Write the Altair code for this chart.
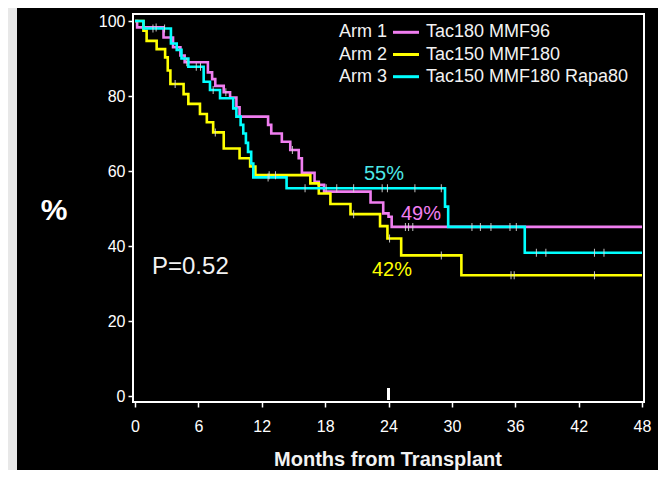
import altair as alt
import pandas as pd

# ---------------- data ----------------
MONTH_TICKS = [0, 6, 12, 18, 24, 30, 36, 42, 48]
PCT_TICKS = [0, 20, 40, 60, 80, 100]
FOLLOW_UP_END = 48
MARKER_MONTH = [24]

ARMS = ["Arm 1", "Arm 2", "Arm 3"]
REGIMENS = ["Tac180 MMF96", "Tac150 MMF180", "Tac150 MMF180 Rapa80"]
COLORS = ["#f07ef0", "#ffff00", "#00ffff"]

arm1_months = [0, 0.2, 2.7, 3.6, 4.3, 4.7, 6.9, 7.3, 7.6, 8.4, 9.0, 9.6, 9.9,
               12.6, 12.9, 13.9, 14.7, 15.5, 15.8, 17.0, 17.4, 17.9, 22.3,
               23.5, 24.0, 24.3]
arm1_pct = [100, 98.3, 95.6, 93.0, 90.8, 89.0, 86.3, 84.5, 82.7, 81.0, 79.6,
            77.0, 74.5, 72.3, 70.0, 67.8, 65.6, 63.4, 59.5, 57.1, 56.3, 54.5,
            51.6, 48.7, 47.8, 45.1]
arm1_censor = [2.0, 4.9, 8.6, 14.9, 25.6, 25.9, 26.3]

arm2_months = [0, 0.8, 1.1, 2.05, 2.85, 3.1, 3.35, 4.6, 5.05, 6.15, 6.8, 7.4,
               8.4, 9.9, 10.9, 11.4, 16.6, 17.4, 18.5, 20.4, 23.2, 23.9,
               25.2, 30.9]
arm2_pct = [100, 97.4, 94.7, 92.5, 90.3, 86.8, 83.2, 80.5, 77.9, 75.2, 73.0,
            70.3, 66.0, 63.4, 61.2, 58.9, 56.7, 54.0, 51.2, 48.5, 45.3, 42.0,
            37.5, 32.2]
arm2_censor = [3.8, 7.6, 12.7, 13.3, 20.7, 24.1, 29.0, 35.6, 35.9, 43.5]

arm3_months = [0, 0.8, 3.4, 3.95, 4.4, 5.05, 6.5, 7.1, 8.05, 9.3, 9.6, 10.0,
               10.25, 10.5, 10.7, 11.0, 11.2, 14.35, 29.35, 29.65, 36.9]
arm3_pct = [100, 98.0, 94.0, 92.3, 90.0, 87.8, 83.8, 81.6, 79.4, 76.7, 74.5,
            72.3, 70.0, 67.5, 65.1, 62.0, 58.3, 55.4, 50.5, 45.1, 38.2]
arm3_censor = [1.7, 2.8, 5.8, 6.2, 7.4, 12.6, 16.1, 18.1, 19.1, 20.7, 23.4,
               23.9, 26.5, 29.0, 31.9, 32.7, 33.7, 35.5, 36.1, 38.0, 38.9,
               43.5, 44.4]

RATE_LABELS = ["55%", "49%", "42%"]
RATE_COLORS = ["#4de8e8", "#f07ef0", "#ffff00"]
P_TEXT = "P=0.52"
X_TITLE = "Months from Transplant"
Y_TITLE = "%"

FONT = "Liberation Sans"

# ---------------- build tables ----------------
series = [(arm1_months, arm1_pct, arm1_censor),
          (arm2_months, arm2_pct, arm2_censor),
          (arm3_months, arm3_pct, arm3_censor)]

curve_rows, censor_rows = [], []
for arm, (ts, ps, cs) in zip(ARMS, series):
    for t, p in zip(ts + [FOLLOW_UP_END], ps + [ps[-1]]):
        curve_rows.append({"arm": arm, "month": t, "pct": p})
    for c in cs:
        level = [p for t, p in zip(ts, ps) if t <= c][-1]
        censor_rows.append({"arm": arm, "month": c, "pct": level})

curves = pd.DataFrame(curve_rows)
censors = pd.DataFrame(censor_rows)
one = pd.DataFrame({"k": [0]})

xscale = alt.Scale(domain=[-0.19, 48.19], nice=False, zero=False)
yscale = alt.Scale(domain=[-1.6, 101.87], nice=False, zero=False)

xaxis = alt.Axis(values=MONTH_TICKS, title=None, domain=False, grid=False,
                 tickSize=5, tickWidth=1.5, tickColor="white",
                 labelColor="white", labelFontSize=16, labelFont=FONT,
                 labelPadding=11, labelFlush=False, labelOverlap=False)
yaxis = alt.Axis(values=PCT_TICKS, title=None, domain=False, grid=False,
                 tickSize=5, tickWidth=1.5, tickColor="white",
                 labelColor="white", labelFontSize=16, labelFont=FONT,
                 labelPadding=3, labelOverlap=False)

strip = alt.Chart(one).mark_rect(color="#e8e8e8").encode(
    x=alt.value(-125), x2=alt.value(-116), y=alt.value(-6), y2=alt.value(456))

lines = alt.Chart(curves).mark_line(interpolate="step-after", strokeWidth=2.6).encode(
    x=alt.X("month:Q", scale=xscale, axis=xaxis),
    y=alt.Y("pct:Q", scale=yscale, axis=yaxis),
    color=alt.Color("arm:N", scale=alt.Scale(domain=ARMS, range=COLORS), legend=None),
)

ticks = alt.Chart(censors).mark_tick(orient="vertical", size=8, thickness=1,
                                      color="#d8d8d8", opacity=0.9).encode(
    x=alt.X("month:Q", scale=xscale),
    y=alt.Y("pct:Q", scale=yscale),
)

marker = alt.Chart(pd.DataFrame({"month": MARKER_MONTH})).mark_rule(
    color="white", strokeWidth=3).encode(
    x=alt.X("month:Q", scale=xscale), y=alt.value(374), y2=alt.value(386))

layers = [strip, lines, ticks, marker]

# legend inside the plot
for i, (arm, reg, col) in enumerate(zip(ARMS, REGIMENS, COLORS)):
    yy = 18.3 + 22.2 * i
    layers.append(alt.Chart(one).mark_text(
        text=arm, align="left", baseline="middle", fontSize=18, font=FONT,
        color="#f2f2f2").encode(x=alt.value(206), y=alt.value(yy)))
    layers.append(alt.Chart(one).mark_rule(color=col, strokeWidth=3).encode(
        x=alt.value(260), x2=alt.value(286), y=alt.value(yy)))
    layers.append(alt.Chart(one).mark_text(
        text=reg, align="left", baseline="middle", fontSize=18, font=FONT,
        color="#f2f2f2").encode(x=alt.value(293), y=alt.value(yy)))

rate_pos = [(251, 160), (288, 200), (259, 256)]
for txt, col, (px, py) in zip(RATE_LABELS, RATE_COLORS, rate_pos):
    layers.append(alt.Chart(one).mark_text(
        text=txt, align="center", baseline="middle", fontSize=20, font=FONT,
        color=col).encode(x=alt.value(px), y=alt.value(py)))

layers.append(alt.Chart(one).mark_text(
    text=P_TEXT, align="left", baseline="middle", fontSize=24, font=FONT,
    color="#f2f2f2").encode(x=alt.value(19), y=alt.value(252.5)))

layers.append(alt.Chart(one).mark_text(
    text=Y_TITLE, align="center", baseline="middle", fontSize=30, font=FONT,
    fontWeight="bold", color="white").encode(x=alt.value(-79), y=alt.value(197)))

layers.append(alt.Chart(one).mark_text(
    text=X_TITLE, align="center", baseline="alphabetic", fontSize=20, font=FONT,
    fontWeight="bold", color="#f2f2f2").encode(x=alt.value(255), y=alt.value(452)))

chart = alt.layer(*layers).properties(
    width=511, height=388,
    autosize=alt.AutoSizeParams(type="none"),
    padding={"left": 125, "top": 6, "right": 14, "bottom": 68},
    background="black",
).configure_view(stroke="white", strokeWidth=2)

chart.save("out.html", embed_options={"renderer": "svg", "actions": False})
